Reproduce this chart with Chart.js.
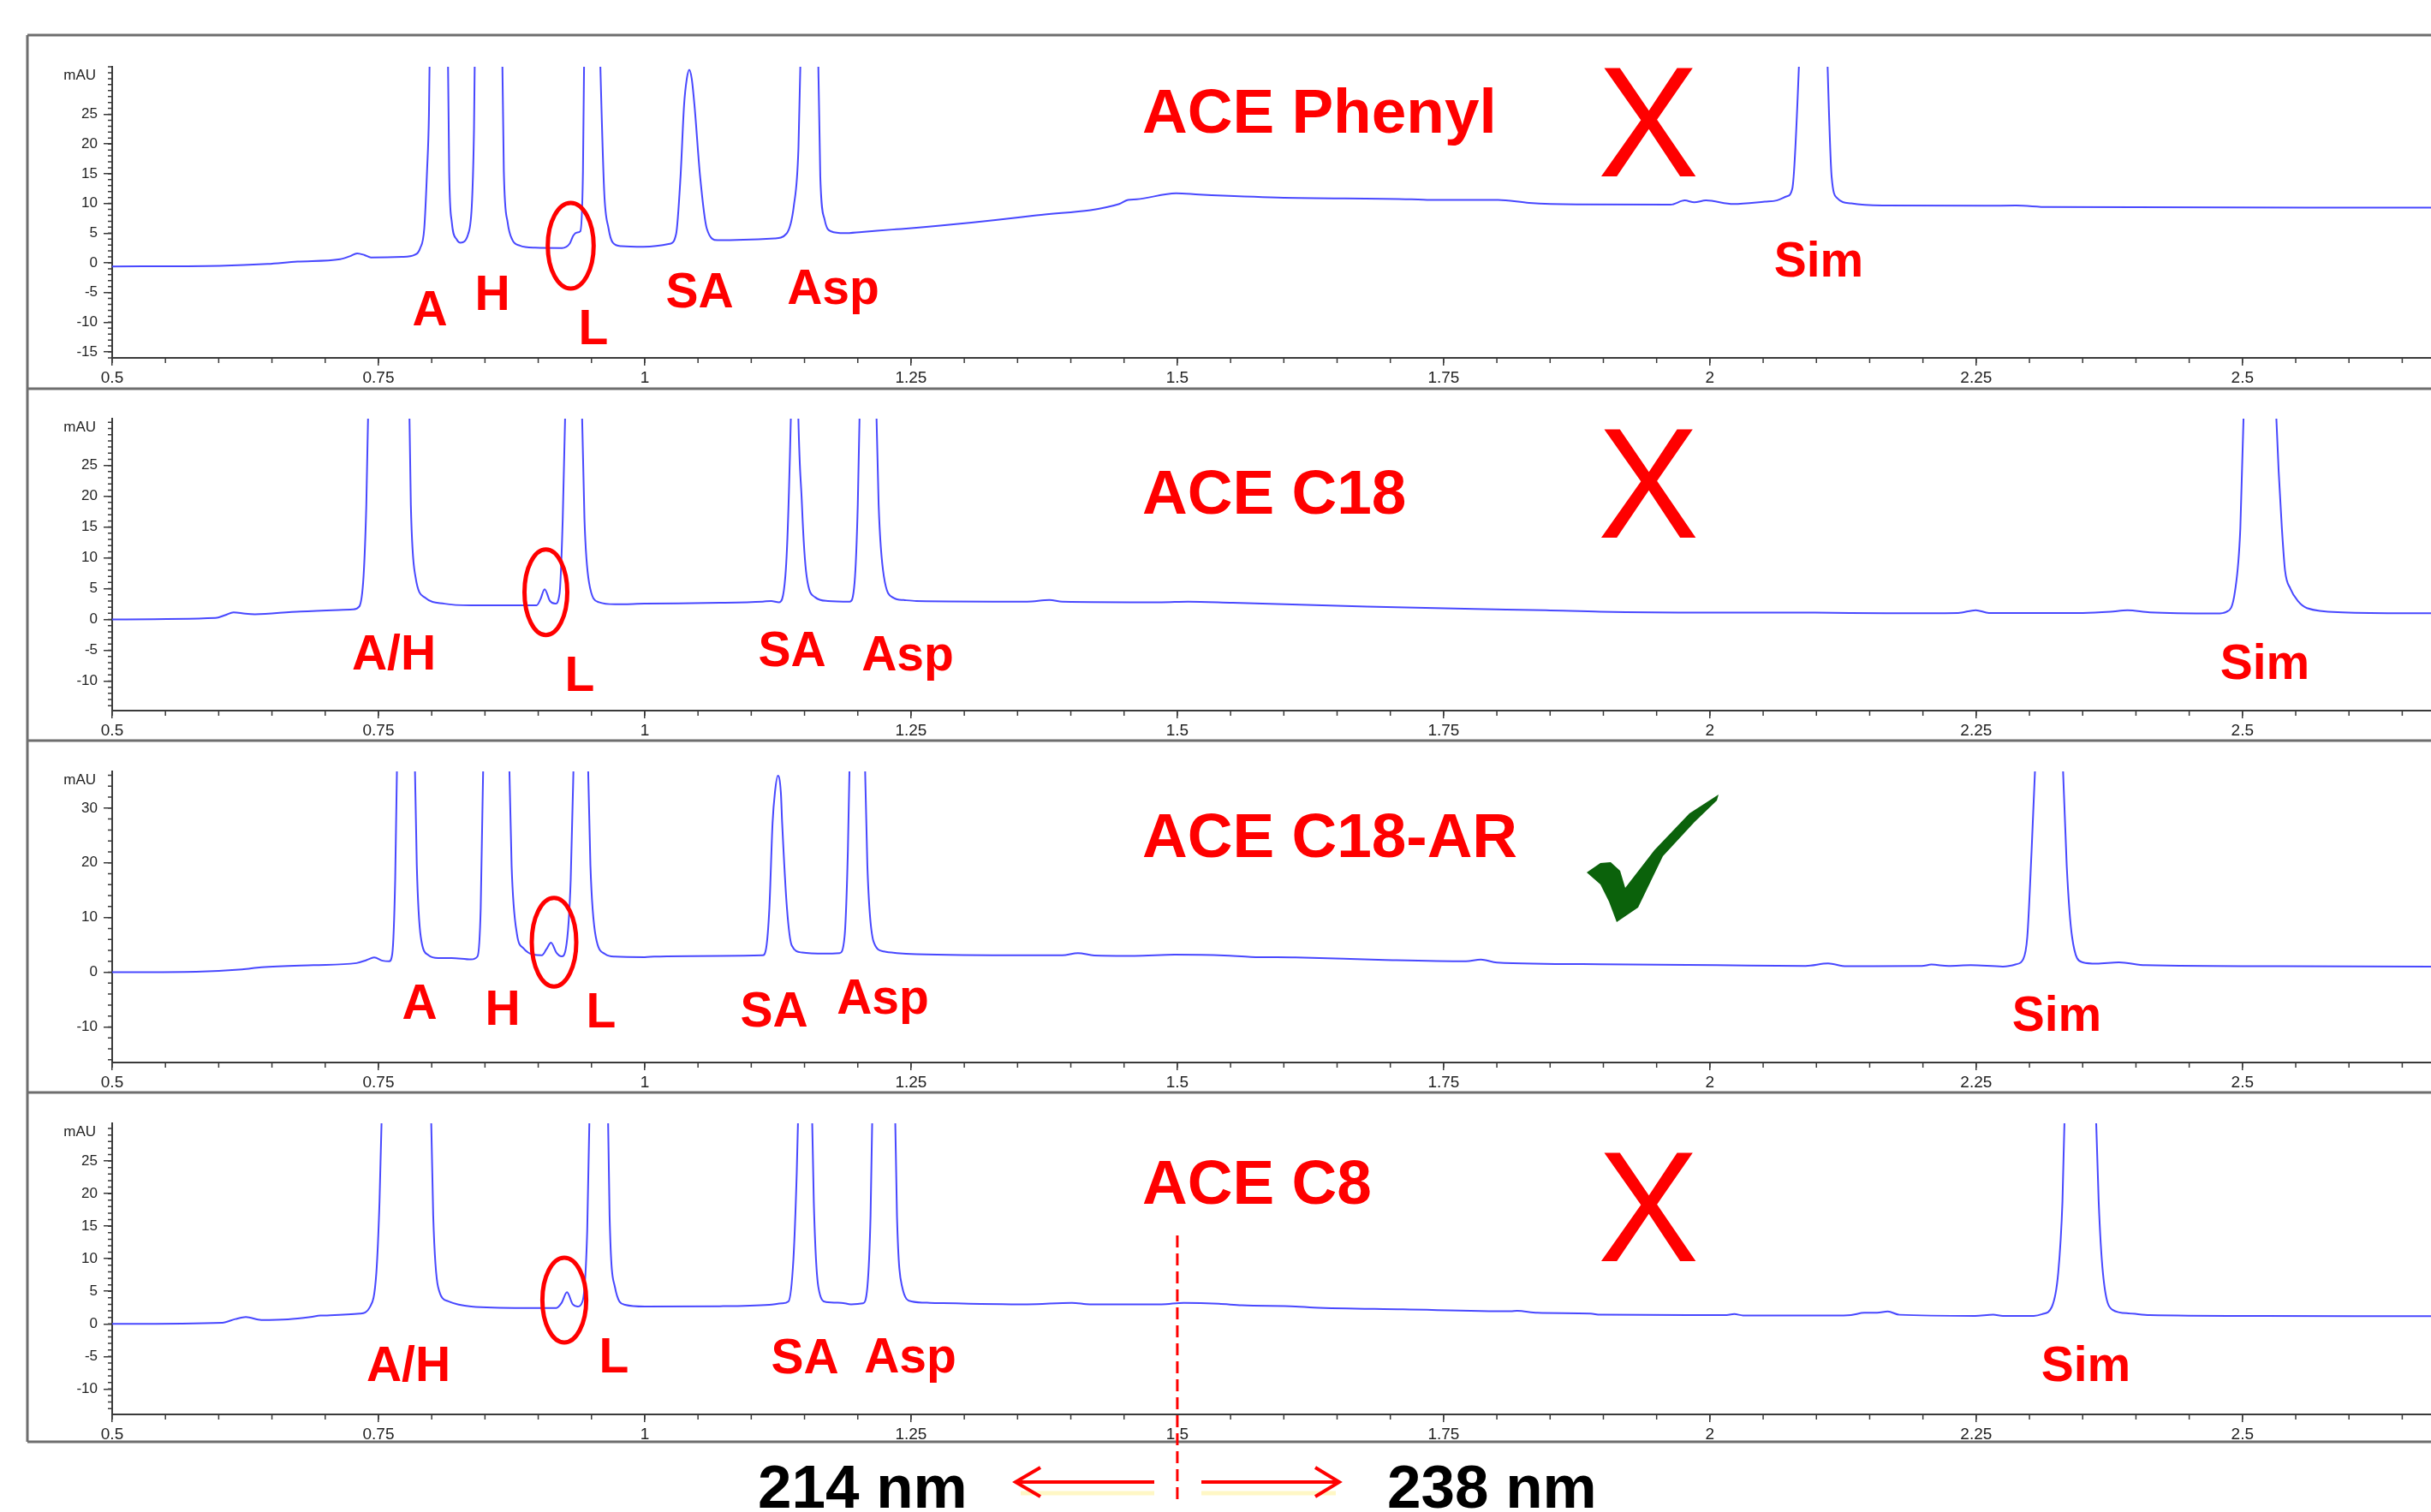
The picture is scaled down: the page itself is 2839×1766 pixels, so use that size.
<!DOCTYPE html>
<html>
<head>
<meta charset="utf-8">
<script src="https://cdn.jsdelivr.net/npm/chart.js@4.4.1/dist/chart.umd.min.js"></script>
<style>
  html, body { margin: 0; padding: 0; background: #fff; }
  #page { position: relative; width: 2839px; height: 1766px; overflow: hidden; }
  canvas { position: absolute; left: 0; }
  #notes { top: 0; pointer-events: none; }
</style>
</head>
<body>
<div id="page">
  <canvas id="phenyl"></canvas>
  <canvas id="c18"></canvas>
  <canvas id="c18ar"></canvas>
  <canvas id="c8"></canvas>
  <canvas id="notes" width="2839" height="1766"></canvas>
</div>
<script>
// retention time (min) / absorbance (mAU)
const phenylTime = [0.5,0.601,0.646,0.674,0.714,0.723,0.730,0.737,0.743,0.772,0.784,0.789,0.793,0.7956,0.7974,0.7988,0.8067,0.8146,0.8164,0.8189,0.8236,0.8271,0.8343,0.8379,0.8397,0.8411,0.8533,0.8655,0.8677,0.8713,0.8756,0.8827,0.8971,0.9223,0.9294,0.933,0.9366,0.9395,0.942,0.9437,0.950,0.9566,0.9619,0.966,0.970,0.978,0.9988,1.0234,1.0295,1.0336,1.0369,1.0395,1.0418,1.0441,1.0467,1.052,1.0582,1.0684,1.1217,1.133,1.140,1.1443,1.1475,1.1545,1.1619,1.1648,1.1689,1.175,1.1873,1.2037,1.2324,1.2406,1.2857,1.3676,1.4455,1.4537,1.4619,1.4988,1.5206,1.5944,1.7198,1.7345,1.801,1.8304,1.8746,1.9631,1.9764,1.9853,1.9963,2.0221,2.0516,2.0627,2.0723,2.0774,2.0863,2.0973,2.1084,2.1143,2.1195,2.1327,2.1622,2.2581,2.2876,2.3171,2.677]
const phenylMau  = [-0.6,-0.5,-0.2,0.2,0.6,1.1,1.6,1.3,0.9,1.0,1.35,2.4,5.8,15.4,25,45,90,45,15.4,6.8,3.9,3.4,4.9,10.6,22.6,45,90,45,15.4,6.8,3.9,2.9,2.55,2.5,3.2,4.6,5.1,5.3,15.4,45,90,45,12.1,5.8,3.4,2.8,2.7,3.2,4.9,14.5,26.5,31,32.5,31,26.5,14.5,5.8,3.8,4.1,4.9,9.65,19.3,45,90,45,14.5,7.25,5.3,5.0,5.2,5.6,5.7,6.4,8.0,9.9,10.6,10.7,11.7,11.5,11.0,10.7,10.6,10.6,10.1,9.85,9.8,10.5,10.2,10.5,9.9,10.3,10.5,11.2,12.5,45,90,45,14.5,10.9,10.0,9.65,9.6,9.65,9.4,9.3]

const c18Time = [0.5,0.597,0.606,0.614,0.625,0.634,0.677,0.726,0.732,0.736,0.7386,0.7417,0.760,0.778,0.7804,0.7847,0.794,0.812,0.837,0.8985,0.902,0.906,0.911,0.916,0.920,0.923,0.9268,0.933,0.9397,0.9434,0.9477,0.957,0.972,1.0,1.0707,1.1107,1.1187,1.126,1.132,1.135,1.1384,1.141,1.143,1.1476,1.152,1.16,1.172,1.1925,1.197,1.200,1.203,1.209,1.216,1.2196,1.2245,1.2337,1.243,1.255,1.359,1.380,1.392,1.485,1.510,1.552,1.678,1.779,1.846,1.897,1.997,2.098,2.166,2.233,2.2496,2.262,2.350,2.376,2.392,2.413,2.476,2.485,2.493,2.498,2.503,2.518,2.531,2.534,2.537,2.540,2.545,2.552,2.5605,2.594,2.677]
const c18Mau  = [0,0.23,0.7,1.16,0.93,0.84,1.3,1.63,2.1,7.0,18.6,45,90,45,18.6,7.0,3.5,2.56,2.3,2.3,3.25,4.9,3.0,2.56,4.2,16.3,45,90,45,16.3,6.0,2.8,2.46,2.56,2.7,2.9,3.0,2.8,7.0,18.6,45,90,45,18.6,7.0,3.6,3.0,2.9,6.0,18.6,45,90,45,18.6,7.0,3.5,3.16,3.0,2.9,3.15,2.9,2.8,2.9,2.7,2.1,1.7,1.5,1.25,1.1,1.1,1.0,1.06,1.5,1.06,1.06,1.25,1.5,1.15,0.97,1.25,4.6,14.8,45,90,36,24,14.8,7.9,5.0,3.0,1.85,1.16,1.0]

const c18arTime = [0.5,0.5787,0.622,0.640,0.689,0.7294,0.7386,0.746,0.754,0.760,0.763,0.7657,0.768,0.7755,0.7835,0.786,0.7897,0.797,0.806,0.8186,0.837,0.843,0.846,0.849,0.860,0.872,0.875,0.880,0.886,0.8955,0.9034,0.9077,0.912,0.917,0.922,0.926,0.9305,0.934,0.940,0.946,0.949,0.954,0.963,0.972,1.0,1.009,1.0707,1.1107,1.114,1.117,1.120,1.1222,1.125,1.1278,1.129,1.1335,1.138,1.1476,1.169,1.183,1.1876,1.1907,1.193,1.200,1.206,1.209,1.215,1.2245,1.2368,1.255,1.359,1.392,1.4067,1.422,1.460,1.4975,1.544,1.569,1.611,1.695,1.771,1.785,1.800,1.897,2.006,2.090,2.111,2.128,2.199,2.208,2.224,2.245,2.275,2.2875,2.294,2.298,2.302,2.307,2.3185,2.330,2.335,2.340,2.350,2.363,2.384,2.409,2.535,2.677]
const c18arMau  = [0,0.1,0.52,0.9,1.3,1.67,2.2,2.7,2.1,2.0,3.4,16.9,45,90,45,19.5,6.5,3.1,2.6,2.6,2.34,2.9,11.7,45,90,45,19.5,7.0,4.4,3.2,3.1,4.2,5.4,3.6,2.9,4.4,16.9,45,90,45,19.5,6.5,3.3,2.86,2.76,2.86,3.0,3.1,4.4,11.7,27.3,32.8,35.9,32.8,27.3,11.7,4.9,3.6,3.4,3.5,6.5,22.1,45,90,45,19.5,5.5,3.8,3.5,3.3,3.1,3.1,3.5,3.07,3.0,3.2,3.07,2.8,2.7,2.24,2.0,2.3,1.77,1.46,1.3,1.15,1.6,1.1,1.15,1.4,1.15,1.3,1.04,1.46,2.34,6.5,22.1,45,90,45,19.5,6.5,1.8,1.56,1.8,1.3,1.1,1.04]

const c8Time = [0.5,0.6033,0.6156,0.6255,0.640,0.665,0.6863,0.6956,0.7325,0.742,0.748,0.751,0.7552,0.7755,0.7977,0.8014,0.806,0.8155,0.837,0.886,0.917,0.922,0.927,0.9324,0.9367,0.9416,0.946,0.9496,0.957,0.9643,0.967,0.972,0.9815,1.0,1.0707,1.117,1.129,1.135,1.1396,1.1427,1.146,1.1507,1.1556,1.1587,1.163,1.170,1.1845,1.1937,1.2048,1.209,1.212,1.215,1.2245,1.2337,1.2368,1.2417,1.2503,1.2675,1.359,1.401,1.418,1.485,1.506,1.539,1.5605,1.611,1.628,1.712,1.813,1.819,1.838,1.888,1.897,2.014,2.023,2.031,2.1155,2.1325,2.145,2.157,2.167,2.178,2.249,2.266,2.275,2.304,2.312,2.321,2.327,2.331,2.335,2.348,2.360,2.365,2.369,2.378,2.393,2.413,2.518,2.677]
const c8Mau  = [0,0.18,0.74,1.05,0.61,0.7,1.05,1.27,1.58,2.58,7.8,18.8,45,90,45,16.6,5.65,3.46,2.67,2.45,2.45,3.24,4.86,3.0,2.67,3.46,14.4,45,90,45,16.6,5.65,2.93,2.67,2.71,2.93,3.15,3.46,10.0,23.2,45,90,45,18.8,5.65,3.37,3.24,3.0,3.15,5.65,16.6,45,90,45,16.6,5.65,3.46,3.24,3.0,3.24,3.0,3.0,3.24,3.1,2.85,2.67,2.5,2.23,1.93,2.0,1.7,1.58,1.4,1.36,1.5,1.3,1.27,1.36,1.7,1.7,1.9,1.4,1.23,1.4,1.23,1.23,1.5,2.6,7.8,18.8,45,90,45,18.8,7.8,2.15,1.62,1.36,1.23,1.18]

// axis ticks
const xTicks = [0.5, 0.75, 1, 1.25, 1.5, 1.75, 2, 2.25, 2.5]
const yTicksPhenyl = [-15, -10, -5, 0, 5, 10, 15, 20, 25]
const yTicksC18 = [-10, -5, 0, 5, 10, 15, 20, 25]
const yTicksC18ar = [-10, 0, 10, 20, 30]
const yTicksC8 = [-10, -5, 0, 5, 10, 15, 20, 25]

const W = 2839
const frames = [41, 454, 865, 1276, 1684]
const axisTops = [78, 489, 901, 1312]
const axisLines = [418, 830, 1241, 1652]
const axisColor = '#3a3a3a'

const minorTicks = (yStep) => ({
  id: 'minorTicks',
  afterDraw(chart) {
    const { ctx, scales: { x, y }, chartArea: a } = chart
    ctx.save()
    ctx.strokeStyle = axisColor
    ctx.lineWidth = 1.5
    ctx.beginPath()
    for (let k = Math.ceil(y.min / yStep); k * yStep <= y.max; k++) {
      const p = y.getPixelForValue(k * yStep)
      ctx.moveTo(a.left - 5, p); ctx.lineTo(a.left, p)
    }
    for (let k = 0; 0.5 + k * 0.05 <= x.max; k++) {
      const p = x.getPixelForValue(0.5 + k * 0.05)
      ctx.moveTo(p, a.bottom); ctx.lineTo(p, a.bottom + 6)
    }
    ctx.stroke()
    ctx.fillStyle = '#222'
    ctx.font = '17px "Liberation Sans", Arial, sans-serif'
    ctx.textAlign = 'right'
    ctx.fillText('mAU', 112, a.top + 15)
    ctx.restore()
  }
})

const chromatogram = (id, i, time, mau, yMin, yMax, yTicks, yStep) => {
  const cv = document.getElementById(id)
  const top = frames[i], h = frames[i + 1] - frames[i]
  cv.width = W; cv.height = h
  cv.style.top = top + 'px'
  return new Chart(cv, {
    type: 'line',
    data: {
      datasets: [{
        data: time.map((t, k) => ({ x: t, y: mau[k] })),
        borderColor: '#4848ff',
        borderWidth: 2,
        pointRadius: 0,
        cubicInterpolationMode: 'monotone'
      }]
    },
    options: {
      responsive: false,
      animation: false,
      devicePixelRatio: 1,
      events: [],
      layout: { padding: { top: axisTops[i] - top, left: 0, right: 0, bottom: 0 } },
      plugins: { legend: { display: false }, tooltip: { enabled: false } },
      scales: {
        x: {
          type: 'linear', min: 0.5, max: 2.677,
          afterBuildTicks: s => { s.ticks = xTicks.map(v => ({ value: v })) },
          afterFit: s => { s.height = top + h - axisLines[i] },
          grid: { drawOnChartArea: false, tickLength: 9, color: axisColor, lineWidth: 1.5 },
          border: { color: axisColor, width: 2 },
          ticks: { autoSkip: false, maxRotation: 0, padding: 3, color: '#222',
                   font: { family: '"Liberation Sans", Arial, sans-serif', size: 19 },
                   callback: v => String(v) }
        },
        y: {
          type: 'linear', min: yMin, max: yMax,
          afterBuildTicks: s => { s.ticks = yTicks.map(v => ({ value: v })) },
          afterFit: s => { s.width = 131 },
          grid: { drawOnChartArea: false, tickLength: 10, color: axisColor, lineWidth: 1.5 },
          border: { color: axisColor, width: 2 },
          ticks: { padding: 7, color: '#222',
                   font: { family: '"Liberation Sans", Arial, sans-serif', size: 17 } }
        }
      }
    },
    plugins: [minorTicks(yStep)]
  })
}

const charts = [
  chromatogram('phenyl', 0, phenylTime, phenylMau, -16, 33, yTicksPhenyl, 1),
  chromatogram('c18', 1, c18Time, c18Mau, -14.8, 32.6, yTicksC18, 1),
  chromatogram('c18ar', 2, c18arTime, c18arMau, -16.5, 36.7, yTicksC18ar, 2),
  chromatogram('c8', 3, c8Time, c8Mau, -13.9, 30.8, yTicksC8, 1)
]

// annotations on top
const titles = [['ACE Phenyl', 1334, 155], ['ACE C18', 1334, 600], ['ACE C18-AR', 1334, 1001], ['ACE C8', 1334, 1406]]
const peakNames = [
  ['A', 502, 380], ['H', 575, 362], ['L', 693, 402], ['SA', 817, 359], ['Asp', 973, 355], ['Sim', 2124, 323],
  ['A/H', 460, 782], ['L', 677, 807], ['SA', 925, 778], ['Asp', 1060, 783], ['Sim', 2645, 793],
  ['A', 490, 1190], ['H', 587, 1197], ['L', 702, 1200], ['SA', 904, 1199], ['Asp', 1031, 1184], ['Sim', 2402, 1204],
  ['A/H', 477, 1613], ['L', 717, 1603], ['SA', 940, 1604], ['Asp', 1063, 1603], ['Sim', 2436, 1613]
]
const rings = [[666.5, 287, 26.8, 50], [637.5, 691.7, 25, 50], [647, 1100.5, 26, 51.7], [659, 1518.5, 25.6, 49.5]]
const crosses = [[1869, 79, 1981, 206], [1869, 502, 1981, 628], [1869, 1346, 1981, 1473]]

const ctx = document.getElementById('notes').getContext('2d')
ctx.strokeStyle = '#6e6e6e'
ctx.lineWidth = 3
ctx.beginPath()
frames.forEach(y => { ctx.moveTo(32, y); ctx.lineTo(W, y) })
ctx.moveTo(32, frames[0]); ctx.lineTo(32, frames[4])
ctx.stroke()

ctx.fillStyle = '#ff0000'
ctx.textBaseline = 'alphabetic'
ctx.font = 'bold 73px "Liberation Sans", Arial, sans-serif'
ctx.textAlign = 'left'
titles.forEach(([t, x, y]) => ctx.fillText(t, x, y))
ctx.font = 'bold 57px "Liberation Sans", Arial, sans-serif'
ctx.textAlign = 'center'
peakNames.forEach(([t, x, y]) => ctx.fillText(t, x, y))

ctx.strokeStyle = '#ff0000'
ctx.lineWidth = 5
rings.forEach(([x, y, rx, ry]) => { ctx.beginPath(); ctx.ellipse(x, y, rx, ry, 0, 0, Math.PI * 2); ctx.stroke() })

ctx.font = '177px "Liberation Sans", Arial, sans-serif'
ctx.textAlign = 'left'
crosses.forEach(([x0, y0, x1, y1]) => {
  const m = ctx.measureText('X')
  const gw = m.actualBoundingBoxLeft + m.actualBoundingBoxRight
  const gh = m.actualBoundingBoxAscent
  ctx.save()
  ctx.translate(x0, y1)
  ctx.scale((x1 - x0) / gw, (y1 - y0) / gh)
  ctx.fillText('X', m.actualBoundingBoxLeft, 0)
  ctx.restore()
})

// check mark for the C18-AR panel
const tick = [[1853, 1019], [1869, 1008], [1881, 1007], [1892, 1017], [1898, 1037], [1932, 993], [1973, 950], [2007, 928],
              [2005, 935], [1979, 960], [1942, 1000], [1913, 1060], [1888, 1077], [1879, 1053], [1869, 1033]]
ctx.fillStyle = '#0b620b'
ctx.beginPath()
tick.forEach(([x, y], k) => k ? ctx.lineTo(x, y) : ctx.moveTo(x, y))
ctx.closePath()
ctx.fill()

// wavelength switch marker
const xs = charts[3].scales.x.getPixelForValue(1.5)
ctx.save()
ctx.setLineDash([14, 7])
ctx.lineWidth = 3
ctx.beginPath(); ctx.moveTo(xs, 1443); ctx.lineTo(xs, 1752); ctx.stroke()
ctx.restore()

ctx.strokeStyle = 'rgba(255, 240, 150, 0.55)'
ctx.lineWidth = 5
ctx.beginPath()
ctx.moveTo(1192, 1744); ctx.lineTo(1348, 1744); ctx.moveTo(1403, 1744); ctx.lineTo(1560, 1744)
ctx.stroke()
ctx.strokeStyle = '#ff0000'
ctx.lineWidth = 4
ctx.beginPath()
ctx.moveTo(1348, 1731); ctx.lineTo(1186, 1731)
ctx.moveTo(1215, 1714); ctx.lineTo(1186, 1731); ctx.lineTo(1215, 1748)
ctx.moveTo(1403, 1731); ctx.lineTo(1564, 1731)
ctx.moveTo(1536, 1714); ctx.lineTo(1564, 1731); ctx.lineTo(1536, 1748)
ctx.stroke()

ctx.fillStyle = '#000'
ctx.font = 'bold 71px "Liberation Sans", Arial, sans-serif'
ctx.textAlign = 'left'
ctx.fillText('214 nm', 885, 1761)
ctx.fillText('238 nm', 1620, 1761)
</script>
</body>
</html>
